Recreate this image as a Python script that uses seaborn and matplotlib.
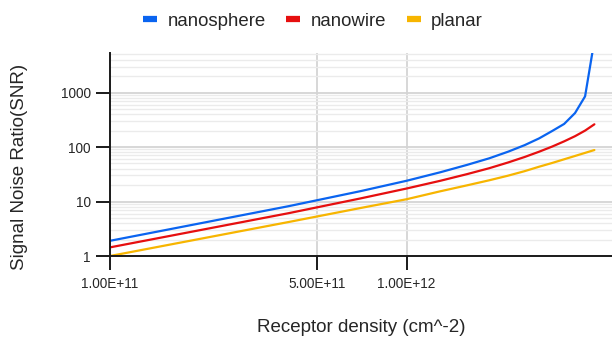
import matplotlib
matplotlib.use("Agg")
import matplotlib.pyplot as plt
import matplotlib.ticker as mticker
import numpy as np
import pandas as pd
import seaborn as sns

# receptor density (cm^-2)
density = [1.0e11, 4.0e11, 7.0e11, 1.0e12, 1.3e12, 1.6e12, 1.9e12, 2.2e12,
           2.5e12, 2.8e12, 3.1e12, 3.4e12, 3.7e12, 4.0e12, 4.3e12]
# SNR
snr_nanosphere = [1.9, 8.2, 15.5, 24, 34.4, 47, 62, 82, 108, 144, 197, 265, 420, 850, 9000]
snr_nanowire = [1.44, 6.1, 11.4, 17.3, 24.0, 31.8, 40.8, 52, 65.5, 82, 102, 127, 158, 200, 261]
snr_planar = [1.0, 4.2, 7.6, 11.0, 15.4, 19.8, 24.5, 29.8, 36, 43.5, 51, 59.5, 68.5, 78, 88]

series = ["nanosphere", "nanowire", "planar"]
colors = ["#0a64f0", "#e60f0f", "#f7b500"]

xtick_vals = [1e11, 5e11, 1e12]
xtick_labels = ["1.00E+11", "5.00E+11", "1.00E+12"]
ytick_vals = [1, 10, 100, 1000]
ytick_labels = ["1", "10", "100", "1000"]

df = pd.DataFrame({
    "density": density * 3,
    "snr": snr_nanosphere + snr_nanowire + snr_planar,
    "type": [s for s in series for _ in density],
})

sns.set_style("white")
plt.rcParams["font.family"] = ["Liberation Sans", "DejaVu Sans"]

fig = plt.figure(figsize=(6.12, 3.38), dpi=100)
ax = fig.add_axes([110 / 612, 1 - 256 / 338, 1 - 110 / 612, (256 - 53.3) / 338])

sns.lineplot(data=df, x="density", y="snr", hue="type", hue_order=series,
             palette=colors, linewidth=1.6, ax=ax, legend=True, sort=False)

ax.set_xscale("log")
ax.set_yscale("log")
ax.set_xlim(1e11, 4.93e12)
ax.set_ylim(1, 5240)

ax.xaxis.set_major_locator(mticker.FixedLocator(xtick_vals))
ax.xaxis.set_major_formatter(mticker.FixedFormatter(xtick_labels))
ax.xaxis.set_minor_locator(mticker.NullLocator())
ax.yaxis.set_major_locator(mticker.FixedLocator(ytick_vals))
ax.yaxis.set_major_formatter(mticker.FixedFormatter(ytick_labels))
ax.yaxis.set_minor_locator(mticker.LogLocator(base=10, subs=np.arange(2, 10)))
ax.yaxis.set_minor_formatter(mticker.NullFormatter())

ax.grid(True, which="major", axis="y", color="#d4d4d4", linewidth=1.3)
ax.grid(True, which="minor", axis="y", color="#ebebeb", linewidth=1.0)
ax.grid(True, which="major", axis="x", color="#d4d4d4", linewidth=1.3)
ax.set_axisbelow(True)

for s in ["top", "right"]:
    ax.spines[s].set_visible(False)
for s in ["left", "bottom"]:
    ax.spines[s].set_color("#1a1a1a")
    ax.spines[s].set_linewidth(1.4)

ax.tick_params(axis="both", which="major", direction="out", length=10,
               width=1.4, color="#1a1a1a", labelsize=9.8,
               bottom=True, left=True)
ax.tick_params(axis="x", which="major", pad=5)
ax.tick_params(axis="y", which="major", pad=4)
ax.tick_params(axis="y", which="minor", length=0, left=False)

ax.set_xlabel("")
ax.set_ylabel("")
fig.text(361 / 612, 1 - 327 / 338, "Receptor density (cm^-2)",
         fontsize=13.5, ha="center", va="center")
fig.text(20 / 612, 1 - 167 / 338, "Signal Noise Ratio(SNR)", rotation=90,
         fontsize=13.5, ha="center", va="center")

leg = ax.legend(loc="center", bbox_to_anchor=(313 / 612, 1 - 21 / 338),
                bbox_transform=fig.transFigure, ncol=3, frameon=False,
                fontsize=13.4, handlelength=0.75, handletextpad=0.55,
                columnspacing=1.1, title=None)
for line in leg.get_lines():
    line.set_linewidth(4.5)
    line.set_solid_capstyle("butt")

fig.savefig("out.png", dpi=100)
